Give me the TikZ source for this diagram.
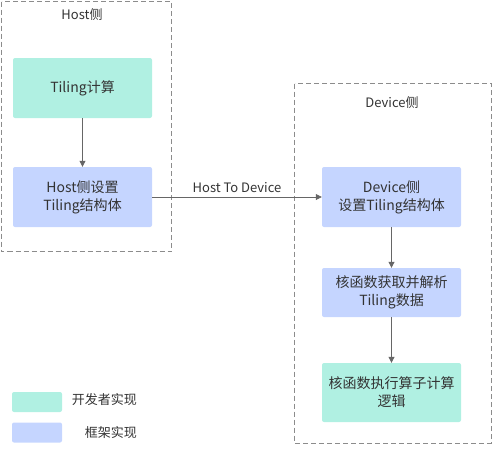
\documentclass[tikz,border=0pt]{standalone}
\usepackage{fontspec}
\setmainfont{Noto Sans CJK SC}
\usetikzlibrary{positioning,arrows.meta}
\definecolor{devgreen}{HTML}{B0F0E2}
\definecolor{fwblue}{HTML}{C5D5FF}
\definecolor{txtgray}{HTML}{333333}
\definecolor{linegray}{HTML}{666666}
\definecolor{dashgray}{HTML}{8C8C8C}
\tikzset{
  blk/.style={rounded corners=2pt, minimum width=139pt, align=center, text=txtgray,
    font=\fontsize{14}{18}\selectfont, inner sep=0pt},
  flow/.style={draw=linegray, line width=0.8pt, -{Triangle[length=6pt,width=6pt]}},
  side/.style={draw=dashgray, line width=0.8pt, dash pattern=on 5pt off 3pt},
  lbl/.style={text=txtgray, font=\fontsize{13}{15}\selectfont, inner sep=1pt},
  swatch/.style={rounded corners=2pt, minimum width=50pt, minimum height=20pt, inner sep=0pt}
}
\begin{document}
\begin{tikzpicture}[x=1pt,y=-1pt]
  \useasboundingbox (0,0) rectangle (492,456);
  % host and device sides
  \draw[side] (1.5,1.5) rectangle (171.5,251.5);
  \draw[side] (294.5,83.5) rectangle (491,443);
  \node[lbl] (hostlbl) at (82,15) {Host侧};
  \node[lbl] (devlbl) at (392,103) {Device侧};
  % boxes
  \node[blk, fill=devgreen, minimum height=60pt] (calc) at (82.5,88) {Tiling计算};
  \node[blk, fill=fwblue, minimum height=60pt] (hostset) at (82.5,197) {Host侧设置\\Tiling结构体};
  \node[blk, fill=fwblue, minimum height=60pt] (devset) at (391.5,197) {Device侧\\设置Tiling结构体};
  \node[blk, fill=fwblue, minimum height=49pt] (parse) at (391.5,292.5) {核函数获取并解析\\Tiling数据};
  \node[blk, fill=devgreen, minimum height=59pt] (exec) at (391.5,392.5) {核函数执行算子计算\\逻辑};
  % connectors
  \draw[flow] (calc) -- (hostset);
  \draw[flow] (hostset) -- node[lbl, above=3pt] (h2d) {Host To Device} (devset);
  \draw[flow] (devset) -- (parse);
  \draw[flow] (parse) -- (exec);
  % legend
  \node[swatch, fill=devgreen] (keydev) at (37,402) {};
  \node[swatch, fill=fwblue] (keyfw) at (37,432.5) {};
  \node[lbl, anchor=east] (keydevtxt) at (138,400) {开发者实现};
  \node[lbl, anchor=east] (keyfwtxt) at (138,433) {框架实现};
\end{tikzpicture}
\end{document}
